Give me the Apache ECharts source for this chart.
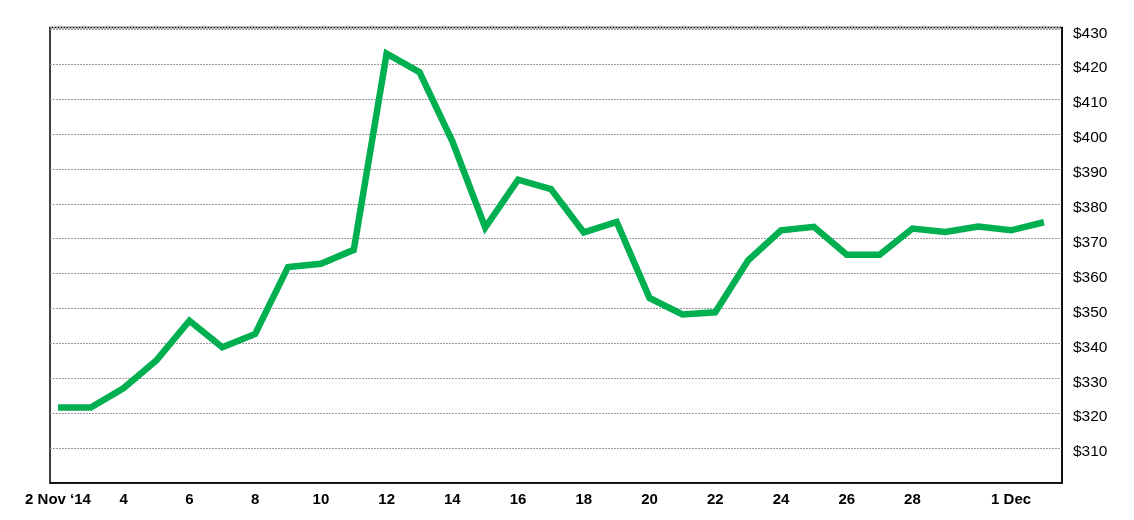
<!DOCTYPE html>
<html>
<head>
<meta charset="utf-8">
<script src="https://cdn.jsdelivr.net/npm/echarts@6/dist/echarts.min.js"></script>
<style>html,body{margin:0;padding:0;background:#fff;}#c{width:1134px;height:520px;}</style>
</head>
<body>
<div id="c"></div>
<script>
// Days from 2 Nov 2014 to 2 Dec 2014
var days = ['2 Nov','3 Nov','4 Nov','5 Nov','6 Nov','7 Nov','8 Nov','9 Nov','10 Nov','11 Nov','12 Nov','13 Nov','14 Nov','15 Nov','16 Nov','17 Nov','18 Nov','19 Nov','20 Nov','21 Nov','22 Nov','23 Nov','24 Nov','25 Nov','26 Nov','27 Nov','28 Nov','29 Nov','30 Nov','1 Dec','2 Dec'];
var prices = [321.6,321.6,327.2,335.2,346.5,338.9,342.7,361.9,362.8,366.8,423.0,417.7,397.9,373.2,386.9,384.2,371.8,374.8,353.0,348.3,348.9,363.8,372.4,373.4,365.4,365.4,372.9,371.9,373.5,372.4,374.7];
var tickIndexes = [0,2,4,6,8,10,12,14,16,18,20,22,24,26,29];
var tickLabels = ['2 Nov \u201814','4','6','8','10','12','14','16','18','20','22','24','26','28','1 Dec'];
var yTickLabels = ['$310','$320','$330','$340','$350','$360','$370','$380','$390','$400','$410','$420','$430'];

var seriesData = prices.map(function(v,i){return [i,v];});

var chart = echarts.init(document.getElementById('c'));
chart.setOption({
  animation:false,
  grid:{left:50,right:72,top:27.5,bottom:37,show:true,borderColor:'#000',borderWidth:1.5,backgroundColor:'transparent'},
  xAxis:{
    type:'value',min:-0.243,max:30.55,
    axisLine:{show:true,onZero:false,lineStyle:{color:'#000',width:1.5}},
    axisTick:{show:false},
    splitLine:{show:false},
    axisLabel:{
      customValues:tickIndexes,
      margin:9,
      fontFamily:'Liberation Sans, Arial, sans-serif',
      fontSize:15,fontWeight:'bold',color:'#000',
      formatter:function(v){var k=tickIndexes.indexOf(Math.round(v));return k>=0?tickLabels[k]:'';}
    }
  },
  yAxis:{
    type:'value',position:'right',min:300,max:430.5,interval:10,
    axisLine:{show:true,onZero:false,lineStyle:{color:'#000',width:1.5}},
    axisTick:{show:false},
    splitLine:{show:true,lineStyle:{color:'#9a9a9a',width:1,type:[2,1]}},
    axisLabel:{
      margin:11,showMinLabel:false,showMaxLabel:false,
      fontFamily:'Liberation Sans, Arial, sans-serif',
      fontSize:15.5,color:'#000',
      rich:{p:{padding:[8,0,0,0],fontFamily:'Liberation Sans, Arial, sans-serif',fontSize:15.5,color:'#000'}},
      formatter:function(v){var k=Math.round((v-310)/10);return (v%10===0 && k>=0 && k<yTickLabels.length)?'{p|'+yTickLabels[k]+'}':'';}
    }
  },
  series:[{
    type:'line',
    data:seriesData,
    showSymbol:false,
    lineStyle:{color:'#00B050',width:6.5,join:'miter'},
    itemStyle:{color:'#00B050'}
  }]
});
</script>
</body>
</html>
